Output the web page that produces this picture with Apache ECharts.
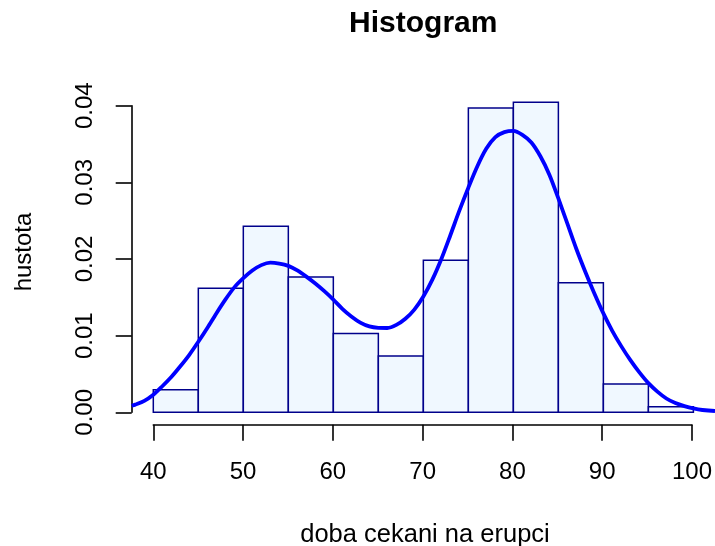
<!DOCTYPE html>
<html><head><meta charset="utf-8">
<script src="https://cdn.jsdelivr.net/npm/echarts@6/dist/echarts.min.js"></script>
<style>html,body{margin:0;padding:0;background:#fff}#c{width:715px;height:546px}</style>
</head><body><div id="c"></div>
<script>
// Histogram bins (left edges, right edges) and densities
var binStart = [40, 45, 50, 55, 60, 65, 70, 75, 80, 85, 90, 95];
var binEnd   = [45, 50, 55, 60, 65, 70, 75, 80, 85, 90, 95, 100];
var density  = [0.00294, 0.01618, 0.02426, 0.01765, 0.01029, 0.00735, 0.01985, 0.03971, 0.04044, 0.01691, 0.00368, 0.00074];

// Density curve
var curveX = [37.6, 38, 39, 40, 41, 42, 43, 44, 45, 46, 47, 48, 49, 50, 51, 52, 53, 54, 55, 56, 57, 58, 59, 60, 61, 62, 63, 64, 65, 66, 67, 68, 69, 70, 71, 72, 73, 74, 75, 76, 77, 78, 79, 80, 81, 82, 83, 84, 85, 86, 87, 88, 89, 90, 91, 92, 93, 94, 95, 96, 97, 98, 99, 100, 101, 102.4];
var curveY = [0.00085, 0.0010, 0.0015, 0.0023, 0.0034, 0.0046, 0.0060, 0.0075, 0.0092, 0.0110, 0.0129, 0.0147, 0.0163, 0.0175, 0.0185, 0.0192, 0.01952, 0.01940, 0.0191, 0.0185, 0.0177, 0.0168, 0.0158, 0.0147, 0.0135, 0.0125, 0.0117, 0.0112, 0.01102, 0.01100, 0.0114, 0.0122, 0.0134, 0.0151, 0.0173, 0.0200, 0.0231, 0.0263, 0.0293, 0.0321, 0.0344, 0.0359, 0.03655, 0.03672, 0.0362, 0.0352, 0.0334, 0.0310, 0.0279, 0.0246, 0.0213, 0.0183, 0.0155, 0.0129, 0.0106, 0.0086, 0.0068, 0.0052, 0.0038, 0.0027, 0.0018, 0.0012, 0.0008, 0.0005, 0.0003, 0.00017];

// Axis ticks
var xTicks = [40, 50, 60, 70, 80, 90, 100];
var yTicks = [0, 0.01, 0.02, 0.03, 0.04];

var titleText = 'Histogram';
var xTitle = 'doba cekani na erupci';
var yTitle = 'hustota';

var FONT = '"Liberation Sans", Arial, Helvetica, sans-serif';

var histData = binStart.map(function (s, i) { return [s, binEnd[i], density[i]]; });
var curveData = curveX.map(function (x, i) { return [x, curveY[i]]; });

var chart = echarts.init(document.getElementById('c'), null, {renderer: 'canvas'});
var tickStyle = {show: true, length: 16, inside: false, lineStyle: {color: '#000', width: 1.6}};
var axisLineStyle = {show: true, onZero: false, lineStyle: {color: '#000', width: 1.6}};

chart.setOption({
  animation: false,
  backgroundColor: '#fff',
  grid: [
    {left: 131.7, top: 89.9, width: 583.3, height: 334.8},      // data region
    {left: 131.7, top: 105.7, width: 10, height: 306.6},        // y axis
    {left: 153.3, top: 89.9, width: 540.1, height: 334.8}       // x axis
  ],
  xAxis: [
    {gridIndex: 0, type: 'value', min: 37.6, max: 102.4, show: false},
    {gridIndex: 1, type: 'value', min: 0, max: 1, show: false},
    {gridIndex: 2, type: 'value', min: xTicks[0], max: xTicks[xTicks.length - 1], interval: 10,
      position: 'bottom', axisLine: axisLineStyle, axisTick: tickStyle, splitLine: {show: false},
      axisLabel: {show: true, margin: 36, color: '#000', fontSize: 24, fontFamily: FONT,
        formatter: function (v) { return xTicks.indexOf(v) >= 0 ? String(v) : ''; }}}
  ],
  yAxis: [
    {gridIndex: 0, type: 'value', min: -0.0016176, max: 0.042058, show: false},
    {gridIndex: 1, type: 'value', min: yTicks[0], max: yTicks[yTicks.length - 1], interval: 0.01,
      position: 'left', axisLine: axisLineStyle, axisTick: tickStyle, splitLine: {show: false},
      axisLabel: {show: true, rotate: 90, margin: 34, color: '#000', fontSize: 24, fontFamily: FONT,
        formatter: function (v) { return v.toFixed(2); }}},
    {gridIndex: 2, type: 'value', min: 0, max: 1, show: false}
  ],
  series: [
    {
      type: 'custom', xAxisIndex: 0, yAxisIndex: 0, data: histData,
      encode: {x: [0, 1], y: 2},
      renderItem: function (params, api) {
        var p0 = api.coord([api.value(0), api.value(2)]);
        var p1 = api.coord([api.value(1), 0]);
        return {type: 'rect', shape: {x: p0[0], y: p0[1], width: p1[0] - p0[0], height: p1[1] - p0[1]},
          style: {fill: '#F0F8FF', stroke: '#00008B', lineWidth: 1.5}};
      },
      z: 2
    },
    {
      type: 'line', xAxisIndex: 0, yAxisIndex: 0, data: curveData, showSymbol: false, symbol: 'none',
      smooth: 0.3, clip: true, lineStyle: {color: '#0000FF', width: 3.8}, z: 3
    }
  ],
  graphic: [
    {type: 'text', x: 423.3, y: 24, style: {text: titleText, align: 'center', verticalAlign: 'middle',
      font: 'bold 30px ' + FONT, fill: '#000'}},
    {type: 'text', x: 425, y: 535, style: {text: xTitle, align: 'center', verticalAlign: 'middle',
      font: '25.5px ' + FONT, fill: '#000'}},
    {type: 'text', x: 24, y: 252, rotation: Math.PI / 2, style: {text: yTitle, align: 'center', verticalAlign: 'middle',
      font: '24px ' + FONT, fill: '#000'}}
  ]
});
</script></body></html>
